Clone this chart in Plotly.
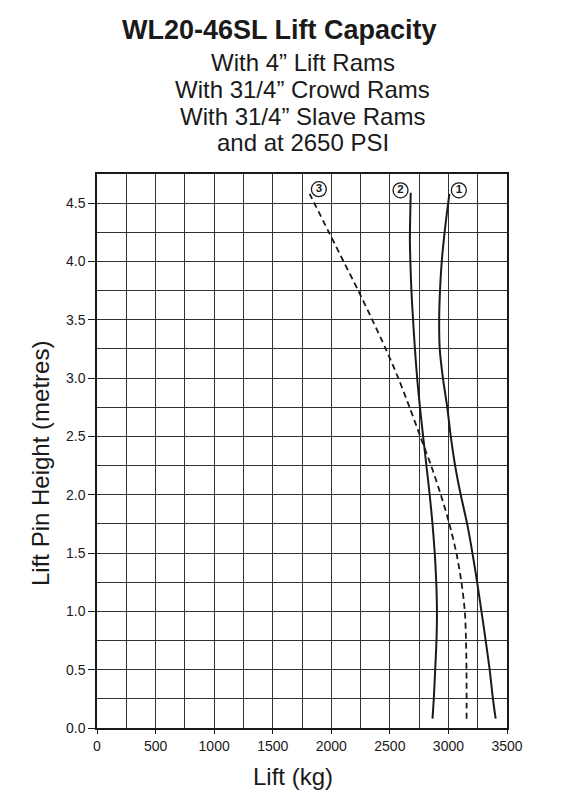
import plotly.graph_objects as go

# ---- data ----
height_1 = [0.08, 0.25, 0.5, 0.75, 1.0, 1.25, 1.5, 1.75, 2.0, 2.25, 2.5, 2.75, 3.0, 3.25, 3.5, 3.75, 4.0, 4.2, 4.4, 4.58]
lift_1 = [3403, 3380, 3352, 3318, 3282, 3245, 3205, 3160, 3105, 3057, 3020, 2990, 2953, 2926, 2921, 2928, 2943, 2962, 2985, 3008]

height_2 = [0.08, 0.25, 0.5, 0.75, 1.0, 1.25, 1.5, 1.75, 2.0, 2.25, 2.5, 2.75, 3.0, 3.25, 3.5, 3.75, 4.0, 4.2, 4.4, 4.59]
lift_2 = [2864, 2875, 2887, 2898, 2902, 2896, 2883, 2864, 2840, 2812, 2784, 2757, 2733, 2714, 2698, 2684, 2675, 2671, 2674, 2678]

height_3 = [0.08, 0.25, 0.5, 0.75, 1.0, 1.25, 1.5, 1.75, 2.0, 2.25, 2.5, 2.75, 3.0, 3.25, 3.5, 3.75, 4.0, 4.25, 4.58]
lift_3 = [3155, 3155, 3154, 3150, 3140, 3111, 3068, 3008, 2935, 2852, 2760, 2668, 2572, 2465, 2350, 2230, 2105, 1980, 1815]

curve_labels = ["1", "2", "3"]
label_lift = [3089, 2591, 1894]
label_height = [4.61, 4.61, 4.62]

x_ticks = [0, 500, 1000, 1500, 2000, 2500, 3000, 3500]
y_ticks = [0.0, 0.5, 1.0, 1.5, 2.0, 2.5, 3.0, 3.5, 4.0, 4.5]

title = "WL20-46SL Lift Capacity"
subtitle_lines = ["With 4\u201d Lift Rams", "With 31/4\u201d Crowd Rams",
                  "With 31/4\u201d Slave Rams", "and at 2650 PSI"]

FONT = "Liberation Sans, Arial, Helvetica, sans-serif"
INK = "#1a1a1a"

fig = go.Figure()
fig.add_trace(go.Scatter(x=lift_1, y=height_1, mode="lines", line=dict(color=INK, width=2, shape="spline", smoothing=0.8), showlegend=False))
fig.add_trace(go.Scatter(x=lift_2, y=height_2, mode="lines", line=dict(color=INK, width=2, shape="spline", smoothing=0.8), showlegend=False))
fig.add_trace(go.Scatter(x=lift_3, y=height_3, mode="lines", line=dict(color=INK, width=1.8, dash="6px,4px", shape="spline", smoothing=0.8), showlegend=False))

# circled curve labels
fig.add_trace(go.Scatter(x=label_lift, y=label_height, mode="markers+text",
                         text=["<b>%s</b>" % t for t in curve_labels], textposition="middle center",
                         textfont=dict(family=FONT, size=11.5, color=INK),
                         marker=dict(symbol="circle", size=15, color="white",
                                     line=dict(color=INK, width=1.3)),
                         showlegend=False, hoverinfo="skip"))

# Title and subtitle
fig.add_annotation(x=0.4463, y=1.2606, xref="paper", yref="paper", text="<b>%s</b>" % title,
                   showarrow=False, xanchor="center", yanchor="middle",
                   font=dict(family=FONT, size=27, color=INK))
sub_y = [1.2014, 1.1518, 1.1040, 1.0570]
for line, yy in zip(subtitle_lines, sub_y):
    fig.add_annotation(x=0.5024, y=yy, xref="paper", yref="paper", text=line,
                       showarrow=False, xanchor="center", yanchor="middle",
                       font=dict(family=FONT, size=24, color=INK))

# Axis titles
fig.add_annotation(x=-0.139, y=0.4765, xref="paper", yref="paper", text="Lift Pin Height (metres)",
                   textangle=-90, showarrow=False, xanchor="center", yanchor="middle",
                   font=dict(family=FONT, size=24, color=INK))
fig.add_annotation(x=0.478, y=-0.0874, xref="paper", yref="paper", text="Lift (kg)",
                   showarrow=False, xanchor="center", yanchor="middle",
                   font=dict(family=FONT, size=24, color=INK))

grid_col = "#333333"
fig.update_xaxes(range=[0, 3500], tickvals=x_ticks, ticktext=[str(v) for v in x_ticks],
                 showgrid=True, gridcolor=grid_col, gridwidth=1,
                 minor=dict(dtick=250, showgrid=True, gridcolor=grid_col, gridwidth=1),
                 showline=True, linecolor=INK, linewidth=1.5, mirror=True,
                 ticks="outside", ticklen=4, tickcolor=INK, zeroline=False,
                 tickfont=dict(family=FONT, size=14, color=INK), fixedrange=True)
fig.update_yaxes(range=[0, 4.75], tickvals=y_ticks, ticktext=["%.1f" % v for v in y_ticks],
                 showgrid=True, gridcolor=grid_col, gridwidth=1,
                 minor=dict(dtick=0.25, tick0=0, showgrid=True, gridcolor=grid_col, gridwidth=1),
                 showline=True, linecolor=INK, linewidth=1.5, mirror=True,
                 ticks="outside", ticklen=7, tickcolor=INK, zeroline=False,
                 tickfont=dict(family=FONT, size=14, color=INK), fixedrange=True)

fig.update_layout(width=575, height=791, margin=dict(l=89, r=76, t=166, b=71),
                  paper_bgcolor="white", plot_bgcolor="white", showlegend=False)

fig.write_html("out.html")
